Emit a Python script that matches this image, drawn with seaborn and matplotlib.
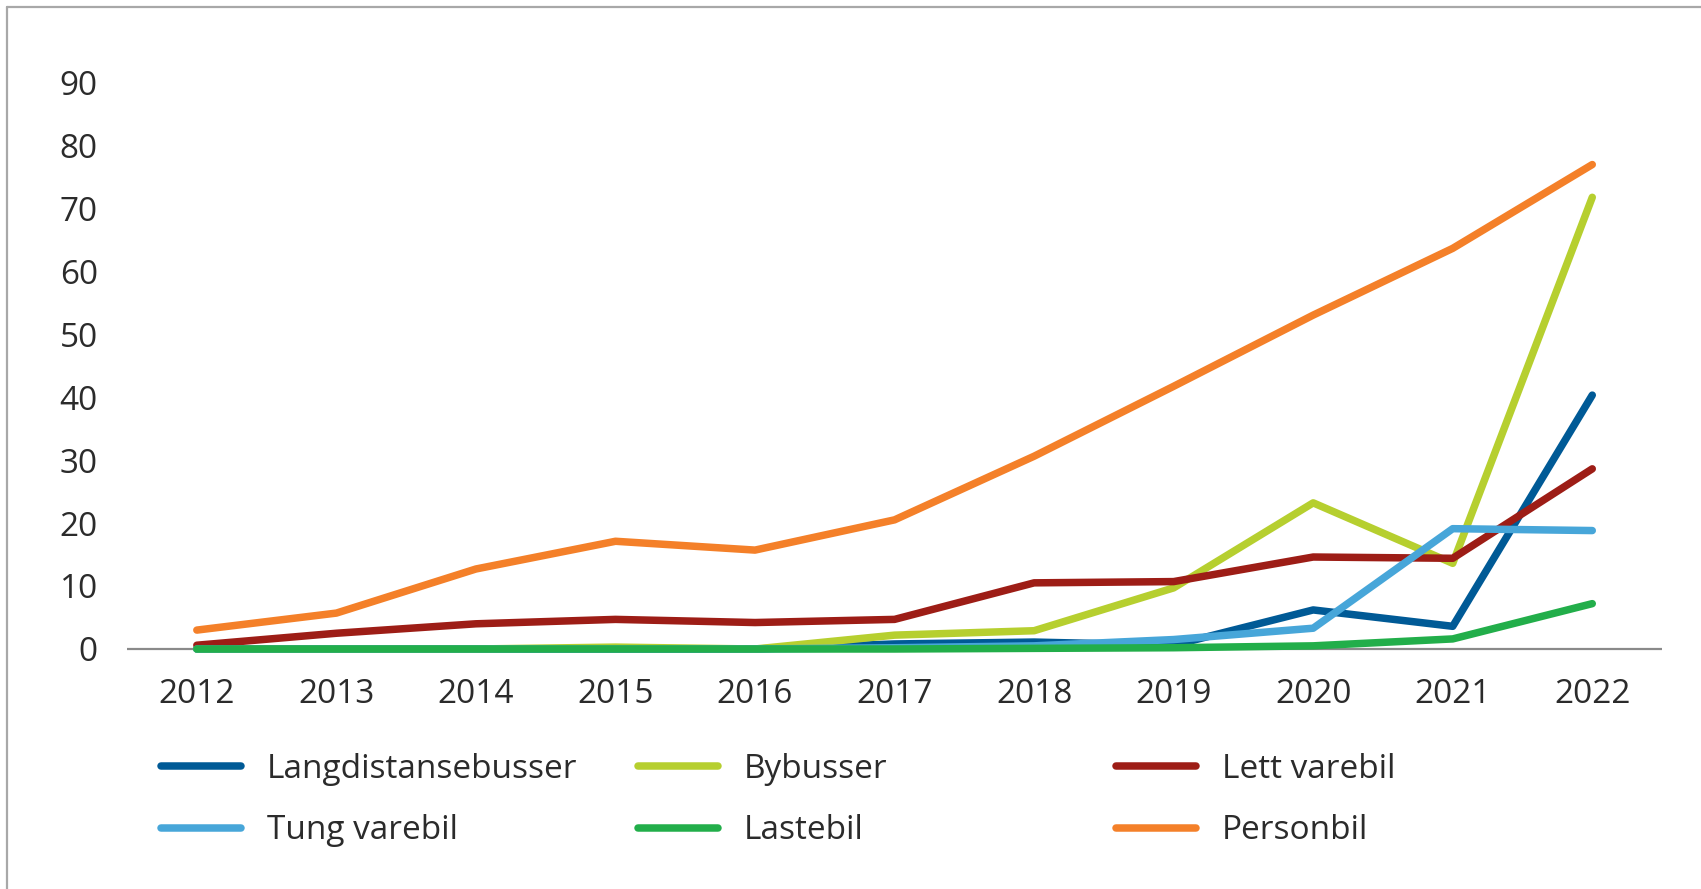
import numpy as np
import pandas as pd
import seaborn as sns
import matplotlib.pyplot as plt
from matplotlib.lines import Line2D

years = list(range(2012, 2023))
langdistansebusser = [0, 0, 0, 0, 0, 0.8, 1.1, 0.6, 6.2, 3.6, 40.3]
bybusser = [0, 0, 0, 0.3, 0, 2.2, 2.9, 9.7, 23.2, 13.6, 71.7]
lett_varebil = [0.6, 2.5, 4.0, 4.7, 4.2, 4.7, 10.5, 10.7, 14.6, 14.4, 28.6]
tung_varebil = [0, 0, 0, 0, 0, 0.2, 0.5, 1.5, 3.3, 19.1, 18.8]
lastebil = [0, 0, 0, 0, 0, 0, 0.1, 0.2, 0.5, 1.6, 7.2]
personbil = [3.0, 5.7, 12.7, 17.1, 15.7, 20.5, 30.6, 41.7, 53.0, 63.6, 76.9]

series_names = ["Langdistansebusser", "Bybusser", "Lett varebil",
                "Tung varebil", "Lastebil", "Personbil"]
series_values = [langdistansebusser, bybusser, lett_varebil,
                 tung_varebil, lastebil, personbil]
colors = ["#005a96", "#b6cf2f", "#9d1d16", "#47a6d9", "#22ae4a", "#f48029"]
y_ticks = [0, 10, 20, 30, 40, 50, 60, 70, 80, 90]

rows = []
for name, vals in zip(series_names, series_values):
    for yr, v in zip(years, vals):
        rows.append({"year": yr, "value": v, "series": name})
df = pd.DataFrame(rows)

sns.set_theme(style="white")
plt.rcParams["font.family"] = ["Open Sans", "DejaVu Sans"]
FS = 24
TXT = "#2b2b2b"
LW = 5.4

fig = plt.figure(figsize=(17.01, 8.89), dpi=100)
ax = fig.add_axes([0.0747, 0.2558, 0.9024, 0.6661])

ax.axhline(0, color="#8a8a8a", lw=1.6, zorder=1)
sns.lineplot(data=df, x="year", y="value", hue="series", hue_order=series_names,
             palette=colors, linewidth=LW, legend=False, ax=ax, zorder=3)
for ln in ax.get_lines()[1:]:
    ln.set_solid_capstyle("round")

ax.set_xlim(2011.5, 2022.5)
ax.set_ylim(-2, 92)
ax.set_xticks(years)
ax.set_xticklabels([str(y) for y in years])
ax.set_yticks(y_ticks)
ax.set_xlabel("")
ax.set_ylabel("")
for s in ax.spines.values():
    s.set_visible(False)
ax.tick_params(axis="both", length=0, labelsize=FS, colors=TXT)
ax.tick_params(axis="x", pad=12)
ax.tick_params(axis="y", pad=21)
ax.grid(False)

handles = [Line2D([0], [0], color=c, lw=LW, solid_capstyle="round") for c in colors]
col_x = [161 / 1701, 638 / 1701, 1116 / 1701]
ycen = 1 - 800 / 889
for i, cx in enumerate(col_x):
    idx = [i, i + 3]
    leg = fig.legend([handles[j] for j in idx], [series_names[j] for j in idx],
                     loc="center left", bbox_to_anchor=(cx, ycen), frameon=False,
                     fontsize=FS, handlelength=2.4, handletextpad=0.78,
                     labelspacing=0.86, borderpad=0, borderaxespad=0)
    for t in leg.get_texts():
        t.set_color(TXT)

fig.add_artist(Line2D([7 / 1701, 1], [1 - 7 / 889, 1 - 7 / 889],
                      transform=fig.transFigure, color="#a8a8a8", lw=1.6))
fig.add_artist(Line2D([7 / 1701, 7 / 1701], [0, 1 - 7 / 889],
                      transform=fig.transFigure, color="#a8a8a8", lw=1.6))

fig.savefig("out.png", dpi=100, facecolor="white")
